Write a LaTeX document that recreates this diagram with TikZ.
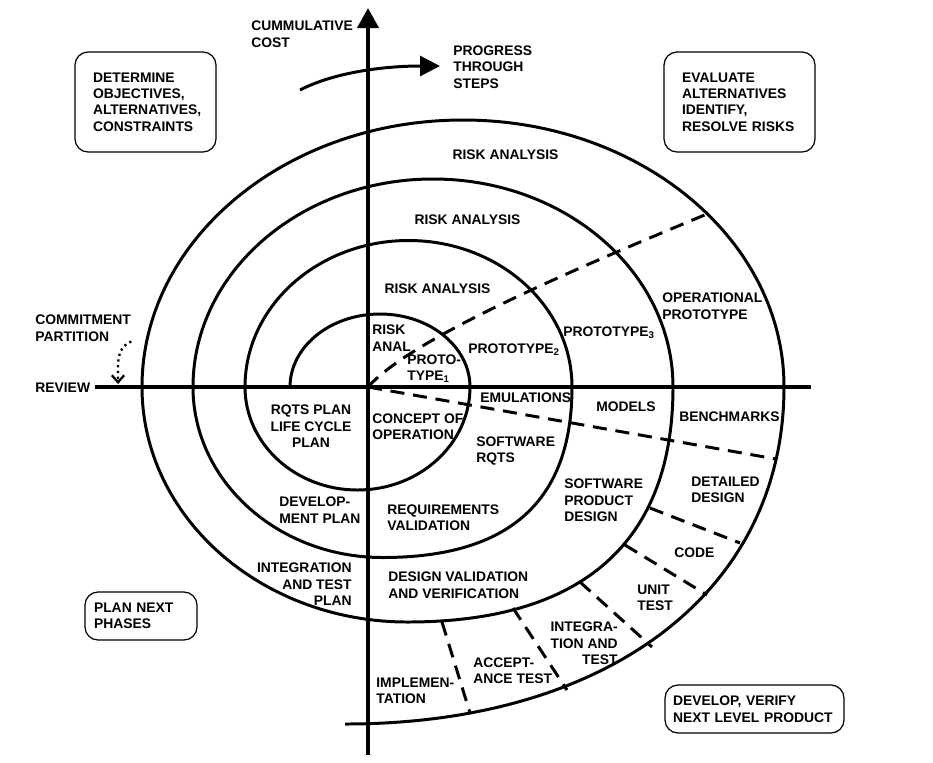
\documentclass[tikz,border=0pt]{standalone}
\usepackage{fontspec}
\setmainfont{Liberation Sans}
\usetikzlibrary{arrows.meta}
\newcommand{\lblfont}{\fontsize{7.9}{9.35}\selectfont\bfseries}

\begin{document}
\begin{tikzpicture}[x=0.02cm, y=-0.02cm,
  every node/.style={font=\lblfont, inner sep=0pt, align=left},
  box/.style={draw, line width=0.7pt, rounded corners=0.26cm, inner ysep=0pt},
  spiral/.style={line width=1.7pt},
  axis/.style={line width=2.3pt},
  phase/.style={line width=1.7pt, dash pattern=on 8pt off 5pt}]
\useasboundingbox (0,0) rectangle (933,762);

% Axes
\coordinate (base) at (368,755);
\coordinate (top) at (368,8);
\coordinate (west) at (95,387);
\coordinate (east) at (811,387);
\draw[axis, -{Triangle[length=0.4cm,width=0.42cm]}] (base) -- (top);
\draw[axis] (west) -- (east);

% Spiral
\draw[spiral] (290,387)
  .. controls (290,346.7) and (330.3,314) .. (380,314)
  .. controls (429.7,314) and (470,346.7) .. (470,387)
  .. controls (470,443.9) and (419.6,490) .. (357.5,490)
  .. controls (295.4,490) and (245,443.9) .. (245,387)
  .. controls (245,306.1) and (318.2,240.5) .. (408.5,240.5)
  .. controls (498.8,240.5) and (572,306.1) .. (572,387)
  .. controls (572,501.2) and (509.5,557.5) .. (382.5,557.5)
  .. controls (277.9,557.5) and (193,481.1) .. (193,387)
  .. controls (193,272.2) and (300.5,179) .. (433,179)
  .. controls (565.5,179) and (673,272.2) .. (673,387)
  .. controls (673,542.1) and (582.7,622) .. (407.5,622)
  .. controls (260.9,622) and (142,516.7) .. (142,387)
  .. controls (142,239.6) and (285.8,120) .. (463,120)
  .. controls (640.2,120) and (784,239.6) .. (784,387)
  .. controls (784,590) and (610,724) .. (345,724);

% Dashed boundaries
\draw[phase] (368,387) .. controls (410,340) and (560,275) .. (707,214);
\draw[phase] (368,387) -- (776,459);
\draw[phase] (650,508) -- (740,543);
\draw[phase] (625,545) -- (707,595);
\draw[phase] (580,582) -- (652,647);
\draw[phase] (513,608) -- (567,690);
\draw[phase] (442,622) -- (470,713);

% Progress arrow
\coordinate (p1) at (300,90);
\coordinate (p2) at (440,66);
\draw[line width=1.7pt, -{Triangle[length=0.4cm,width=0.4cm]}] (p1) .. controls (335,72) and (385,66) .. (p2);

% Quadrant boxes
\node[box, minimum width=2.82cm, minimum height=2cm, inner xsep=0.36cm, text width=2.1cm] (objectives) at (145.5,102) {DETERMINE\\OBJECTIVES,\\ALTERNATIVES,\\CONSTRAINTS};
\node[box, minimum width=3.02cm, minimum height=2cm, inner xsep=0.36cm, text width=2.3cm] (evaluate) at (739.5,102) {EVALUATE\\ALTERNATIVES\\IDENTIFY,\\RESOLVE RISKS};
\node[box, minimum width=2.24cm, minimum height=0.96cm, inner xsep=0.18cm, text width=1.88cm] (plan) at (141,616) {PLAN NEXT\\PHASES};
\node[box, minimum width=3.58cm, minimum height=0.96cm, inner xsep=0.16cm, text width=3.26cm] (develop) at (754.5,709) {DEVELOP, VERIFY\\NEXT LEVEL PRODUCT};

% Labels
\node[anchor=west] (cost) at (251,34) {CUMMULATIVE\\COST};
\node[anchor=west] (progress) at (453,67) {PROGRESS\\THROUGH\\STEPS};
\node[anchor=west] (commit) at (35,328) {COMMITMENT\\PARTITION};
\node[anchor=west] (review) at (35,388) {REVIEW};
\node (risk4) at (505.5,155) {RISK ANALYSIS};
\node (risk3) at (467.5,220) {RISK ANALYSIS};
\node (risk2) at (437.5,289) {RISK ANALYSIS};
\node[anchor=west] (risk1) at (372,338) {RISK\\ANAL};
\node[anchor=west] (proto1) at (407,368.5) {PROTO-\\TYPE\textsubscript{1}};
\node[anchor=west] (proto2) at (468,350) {PROTOTYPE\textsubscript{2}};
\node[anchor=west] (proto3) at (563,333) {PROTOTYPE\textsubscript{3}};
\node[anchor=west] (opproto) at (662,306) {OPERATIONAL\\PROTOTYPE};
\node[anchor=west] (emul) at (480,398) {EMULATIONS};
\node[anchor=west] (models) at (596,407) {MODELS};
\node[anchor=west] (bench) at (679,417) {BENCHMARKS};
\node[anchor=west] (detail) at (691,489.5) {DETAILED\\DESIGN};
\node[anchor=west] (code) at (674,553) {CODE};
\node[anchor=west] (unit) at (637,598) {UNIT\\TEST};
\node[anchor=east, align=right] (integ) at (618,643.5) {INTEGRA-\\TION AND\\TEST};
\node[anchor=west] (accept) at (473,670.5) {ACCEPT-\\ANCE TEST};
\node[anchor=west] (impl) at (376,690.5) {IMPLEMEN-\\TATION};
\node[anchor=west] (desval) at (388,585) {DESIGN VALIDATION\\AND VERIFICATION};
\node[anchor=west] (reqval) at (387,517.5) {REQUIREMENTS\\VALIDATION};
\node[anchor=west] (swrqts) at (476,451) {SOFTWARE\\RQTS};
\node[anchor=west] (swdesign) at (564,500.5) {SOFTWARE\\PRODUCT\\DESIGN};
\node[anchor=west] (concept) at (372,426.5) {CONCEPT OF\\OPERATION};
\node[align=center] (rqtsplan) at (311,426.5) {RQTS PLAN\\LIFE CYCLE\\PLAN};
\node[anchor=west] (devplan) at (279,510) {DEVELOP-\\MENT PLAN};
\node[anchor=east, align=right] (itplan) at (352,584.5) {INTEGRATION\\AND TEST\\PLAN};

% Commitment arrow
\coordinate (cp) at (118,384);
\draw[line width=1.3pt, dotted, -{Straight Barb[length=4pt,width=7pt]}] (commit.south east) .. controls (116,348) and (118,362) .. (cp);
\end{tikzpicture}
\end{document}
